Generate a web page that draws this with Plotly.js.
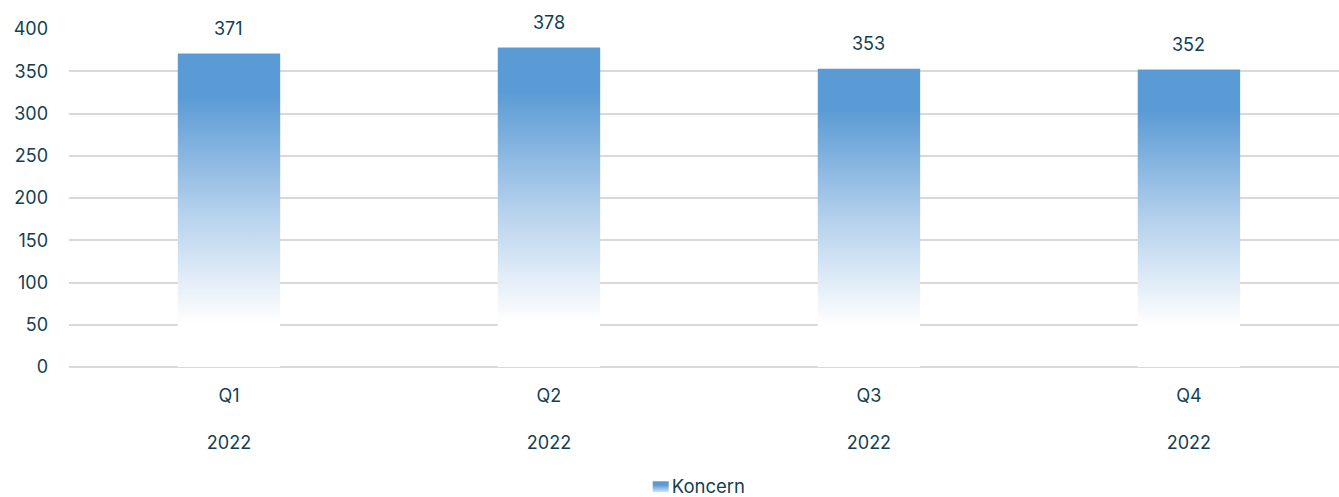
<!DOCTYPE html>
<html>
<head>
<meta charset="utf-8">
<script src="https://cdn.plot.ly/plotly-3.0.1.min.js"></script>
<style>html,body{margin:0;padding:0;background:#fff;}#chart{width:1339px;height:497px;}</style>
</head>
<body>
<div id="chart"></div>
<script>
const quarters = ["Q1", "Q2", "Q3", "Q4"];
const years = ["2022", "2022", "2022", "2022"];
const values = [371, 378, 353, 352];
const seriesName = "Koncern";
const yTicks = [0, 50, 100, 150, 200, 250, 300, 350, 400];

const textColor = "#123f52";
const barColor = "#5b9bd5";
const fontFamily = "Inter, 'Open Sans', sans-serif";
const fs = 18;

const categories = quarters.map((q, i) => q + "<br><br>" + years[i]);

const trace = {
  type: "bar",
  x: categories,
  y: values,
  name: seriesName,
  width: 0.32,
  marker: { color: barColor, line: { width: 0 } },
  hoverinfo: "x+y",
  showlegend: true
};

const annotations = values.map((v, i) => ({
  x: categories[i], y: v, xref: "x", yref: "y",
  text: String(v), showarrow: false, yanchor: "bottom", yshift: 13,
  font: { family: fontFamily, size: fs, color: textColor }
}));

const layout = {
  width: 1339, height: 497,
  margin: { l: 69, r: 0, t: 29, b: 130, autoexpand: false },
  paper_bgcolor: "#fff", plot_bgcolor: "#fff",
  font: { family: fontFamily, size: fs, color: textColor },
  xaxis: {
    type: "category",
    range: [-0.5, 3.469],
    showgrid: false, zeroline: false, showline: false,
    ticks: "", ticklabelstandoff: 16,
    tickfont: { family: fontFamily, size: fs, color: textColor }
  },
  yaxis: {
    range: [0, 400],
    tickvals: yTicks,
    showgrid: true, gridcolor: "#d9d9d9", gridwidth: 2,
    zeroline: true, zerolinecolor: "#d9d9d9", zerolinewidth: 2,
    showline: false, ticks: "", ticklabelstandoff: 20,
    tickfont: { family: fontFamily, size: fs, color: textColor }
  },
  legend: {
    orientation: "h", x: 0.497, xanchor: "center", y: -0.298, yanchor: "top",
    font: { family: fontFamily, size: 18.5, color: textColor },
    itemwidth: 30
  },
  annotations: annotations,
  showlegend: true,
  bargap: 0.68
};

Plotly.newPlot("chart", [trace], layout, { displayModeBar: false, staticPlot: true }).then(gd => {
  const svgNS = "http://www.w3.org/2000/svg";
  const svg = gd.querySelector("svg.main-svg");
  let defs = svg.querySelector("defs");
  if (!defs) { defs = document.createElementNS(svgNS, "defs"); svg.insertBefore(defs, svg.firstChild); }
  function makeGrad(id, stops) {
    const grad = document.createElementNS(svgNS, "linearGradient");
    grad.setAttribute("id", id);
    grad.setAttribute("x1", "0"); grad.setAttribute("y1", "0");
    grad.setAttribute("x2", "0"); grad.setAttribute("y2", "1");
    stops.forEach(s => {
      const st = document.createElementNS(svgNS, "stop");
      st.setAttribute("offset", s[0]);
      st.setAttribute("stop-color", s[1]);
      grad.appendChild(st);
    });
    defs.appendChild(grad);
  }
  makeGrad("barGrad", [[0, barColor], [0.14, barColor], [0.5, "#b3d0ec"], [0.86, "#ffffff"], [1, "#ffffff"]]);
  makeGrad("legGrad", [[0, barColor], [0.35, barColor], [1, "#d6e5f4"]]);
  gd.querySelectorAll(".barlayer .point path").forEach(p => { p.style.fill = "url(#barGrad)"; });
  gd.querySelectorAll(".legendpoints path").forEach(p => {
    p.style.fill = "url(#legGrad)";
    p.setAttribute("d", "M8,6H-8V-5H8Z");
  });
  gd.querySelectorAll(".legend .legendtext").forEach(t => { t.setAttribute("x", "31"); });
});
</script>
</body>
</html>
